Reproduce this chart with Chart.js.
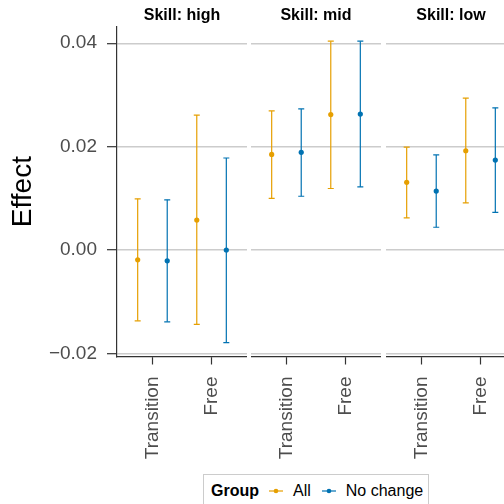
<!DOCTYPE html>
<html>
<head>
<meta charset="utf-8">
<script src="https://cdn.jsdelivr.net/npm/chart.js@4"></script>
<style>
  html, body { margin:0; padding:0; background:#fff; overflow:hidden; }
  body { width:504px; height:504px; position:relative; font-family:"Liberation Sans", Arial, sans-serif; }
  .panel { position:absolute; top:0; height:504px; }
  #legend {
    position:absolute; left:203px; top:474px; width:224px; height:40px;
    border:1px solid #cccccc; background:#fff; white-space:nowrap;
    font-size:16px; color:#000;
  }
  #legend .row { display:flex; flex-wrap:nowrap; align-items:center; height:32px; padding-left:7px; }
  #legend b { margin-right:10px; }
  #legend svg { margin-right:10px; flex:none; }
  #legend .lab { margin-right:11px; }
</style>
</head>
<body>

<div class="panel" style="left:0;width:247px"><canvas id="p0"></canvas></div>
<div class="panel" style="left:251px;width:130px"><canvas id="p1"></canvas></div>
<div class="panel" style="left:386px;width:130px"><canvas id="p2"></canvas></div>

<div id="legend"><div class="row" id="legendRow"><b>Group</b></div></div>

<script>
/* DATA */
const skills  = ["Skill: high", "Skill: mid", "Skill: low"];
const periods = ["Transition", "Free"];
const groups  = ["All", "No change"];

// order: high-Transition, high-Free, mid-Transition, mid-Free, low-Transition, low-Free
const allEst = [-0.0019, 0.0058, 0.0185, 0.0262, 0.0131, 0.0192];
const allLo  = [-0.0137, -0.0144, 0.0100, 0.0119, 0.0062, 0.0091];
const allHi  = [ 0.0099, 0.0261, 0.0269, 0.0404, 0.0199, 0.0294];

const ncEst  = [-0.0021, 0.0000, 0.0189, 0.0263, 0.0114, 0.0174];
const ncLo   = [-0.0139, -0.0179, 0.0104, 0.0122, 0.0044, 0.0073];
const ncHi   = [ 0.0097, 0.0178, 0.0273, 0.0404, 0.0184, 0.0275];

const yTicks = [-0.02, 0.00, 0.02, 0.04];

/* STYLE */
const FONT = "'Liberation Sans', Arial, sans-serif";
const colors = ["#E69F00", "#0072B2"];
const dodge = [-0.25, 0.25];
const groupData = [[allEst, allLo, allHi], [ncEst, ncLo, ncHi]];

function fmtY(v){
  let s = Math.abs(v).toFixed(2);
  return v < 0 ? "\u2212" + s : s;
}

function makePanel(s, canvasId){
  const showY = s === 0;
  const datasets = [];

  groups.forEach((g, gi) => {
    const [est, lo, hi] = groupData[gi];
    let bars = [], pts = [];
    periods.forEach((p, pi) => {
      const i = s * 2 + pi;
      const x = pi + 1 + dodge[gi];
      bars.push({x: x, y: lo[i]}, {x: x, y: hi[i]}, {x: x, y: null});
      pts.push({x: x, y: est[i]});
    });

    // points on top
    datasets.push({
      label: g,
      data: pts,
      order: 0,
      pointStyle: "circle",
      pointRadius: 2.6,
      pointBackgroundColor: colors[gi],
      pointBorderWidth: 0
    });
    // error bars (caps = 'line' point style)
    datasets.push({
      label: g + " CI",
      data: bars,
      order: 1,
      showLine: true,
      spanGaps: false,
      borderColor: colors[gi],
      borderWidth: 1.2,
      pointStyle: "line",
      pointRadius: 3,
      pointBorderWidth: 1.2,
      pointBorderColor: colors[gi]
    });
  });

  return new Chart(document.getElementById(canvasId), {
    type: "scatter",
    data: { datasets: datasets },
    options: {
      animation: false,
      responsive: true,
      maintainAspectRatio: false,
      layout: { padding: 0, autoPadding: false },
      plugins: {
        legend: { display: false },
        tooltip: { enabled: false },
        title: {
          display: true,
          fullSize: false,
          text: skills[s],
          color: "#000",
          font: { family: FONT, size: 16, weight: "bold" },
          padding: { top: 6, bottom: 1.5 }
        }
      },
      scales: {
        x: {
          type: "linear",
          min: 0.4,
          max: 2.6,
          afterBuildTicks: sc => { sc.ticks = periods.map((p, i) => ({ value: i + 1 })); },
          afterFit: sc => { sc.height = 147.5; },
          ticks: {
            autoSkip: false,
            minRotation: 90,
            maxRotation: 90,
            padding: 12,
            color: "#4D4D4D",
            font: { family: FONT, size: 19 },
            callback: v => periods[Math.round(v) - 1]
          },
          grid: { drawOnChartArea: false, tickLength: 8, tickColor: "#333333", tickWidth: 1.2 },
          border: { display: true, color: "#333333", width: 1.2 }
        },
        y: {
          min: -0.0206,
          max: 0.0432,
          afterBuildTicks: sc => { sc.ticks = yTicks.map(v => ({ value: v })); },
          afterFit: sc => { sc.width = showY ? 117 : 0; },
          ticks: {
            display: showY,
            padding: 10,
            color: "#4D4D4D",
            font: { family: FONT, size: 19 },
            callback: v => fmtY(v)
          },
          grid: {
            color: "#CCCCCC",
            lineWidth: 1.4,
            drawTicks: showY,
            tickLength: showY ? 10 : 0,
            tickColor: "#333333",
            tickWidth: 1.2
          },
          border: { display: showY, color: "#333333", width: 1.2 },
          title: {
            display: showY,
            text: "Effect",
            color: "#000",
            font: { family: FONT, size: 28 },
            padding: { top: 6.5, bottom: 0 }
          }
        }
      }
    }
  });
}

skills.forEach((s, i) => makePanel(i, "p" + i));

/* LEGEND */
const row = document.getElementById("legendRow");
groups.forEach((g, gi) => {
  row.insertAdjacentHTML("beforeend",
    '<svg width="14" height="8"><line x1="0" y1="4" x2="14" y2="4" stroke="' + colors[gi] +
    '" stroke-width="1.2"/><circle cx="7" cy="4" r="2.3" fill="' + colors[gi] + '"/></svg>' +
    '<span class="lab">' + g + '</span>');
});
</script>
</body>
</html>
